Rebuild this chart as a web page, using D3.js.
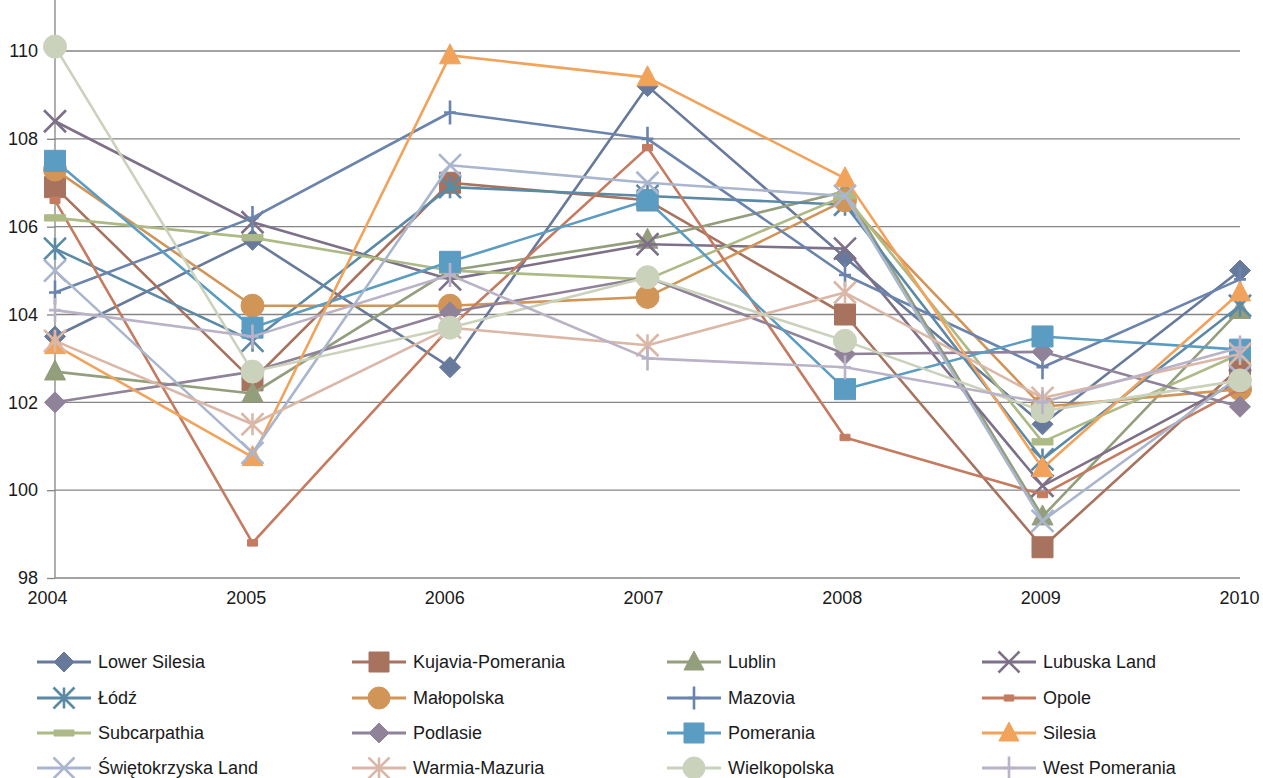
<!DOCTYPE html>
<html>
<head>
<meta charset="utf-8">
<script src="https://cdn.jsdelivr.net/npm/d3@7"></script>
<style>
  body { margin: 0; background: #fff; }
  svg { display: block; }
  text { font-family: "Liberation Sans", Arial, sans-serif; fill: #1a1a1a; }
</style>
</head>
<body>
<svg id="chart" width="1263" height="778"></svg>
<script>
const years = [2004, 2005, 2006, 2007, 2008, 2009, 2010];
const yTicks = [98, 100, 102, 104, 106, 108, 110];

const seriesNames = ["Lower Silesia", "Kujavia-Pomerania", "Lublin", "Lubuska Land",
  "Łódź", "Małopolska", "Mazovia", "Opole",
  "Subcarpathia", "Podlasie", "Pomerania", "Silesia",
  "Świętokrzyska Land", "Warmia-Mazuria", "Wielkopolska", "West Pomerania"];

const lowerSilesia   = [103.5, 105.7, 102.8, 109.2, 105.3, 101.5, 105.0];
const kujavia        = [106.9, 102.5, 107.0, 106.6, 104.0, 98.7, 102.8];
const lublin         = [102.7, 102.2, 105.0, 105.7, 106.8, 99.4, 104.1];
const lubuska        = [108.4, 106.1, 104.8, 105.6, 105.5, 100.1, 102.5];
const lodz           = [105.5, 103.4, 106.9, 106.7, 106.5, 100.7, 104.2];
const malopolska     = [107.3, 104.2, 104.2, 104.4, 106.6, 101.9, 102.3];
const mazovia        = [104.5, 106.2, 108.6, 108.0, 104.9, 102.8, 104.8];
const opole          = [106.6, 98.8, 103.7, 107.8, 101.2, 99.9, 102.3];
const subcarpathia   = [106.2, 105.75, 105.0, 104.8, 106.7, 101.1, 103.1];
const podlasie       = [102.0, 102.7, 104.05, 104.85, 103.1, 103.15, 101.9];
const pomerania      = [107.5, 103.7, 105.2, 106.6, 102.3, 103.5, 103.2];
const silesia        = [103.3, 100.75, 109.9, 109.4, 107.1, 100.5, 104.5];
const swietokrzyska  = [105.0, 100.85, 107.4, 107.0, 106.7, 99.3, 102.6];
const warmia         = [103.4, 101.5, 103.7, 103.3, 104.5, 102.1, 103.1];
const wielkopolska   = [110.1, 102.7, 103.7, 104.85, 103.4, 101.8, 102.5];
const westPomerania  = [104.1, 103.5, 104.9, 103.0, 102.8, 102.0, 103.25];

const seriesValues = [lowerSilesia, kujavia, lublin, lubuska, lodz, malopolska, mazovia, opole,
  subcarpathia, podlasie, pomerania, silesia, swietokrzyska, warmia, wielkopolska, westPomerania];

const colors = ["#677a9c", "#a7735f", "#939e7c", "#7e7088", "#5b89a6", "#d29558", "#6a84ad", "#c47b60",
  "#adba85", "#8f8299", "#5b9cc2", "#f1a35b", "#a9b6cd", "#dab7a6", "#cbd2bc", "#bab2c6"];
const markers = ["diamond", "square", "triangle", "x", "asterisk", "circle", "plus", "dash",
  "bar", "diamond", "square", "triangle", "x", "asterisk", "circle", "plus"];

const svg = d3.select("#chart");
const x = d3.scalePoint().domain(years).range([55, 1240]);
const xLabel = d3.scalePoint().domain(years).range([47, 1239]);
const y = d3.scaleLinear().domain([98, 110]).range([578, 51]);

// grid
svg.append("g").selectAll("line").data(yTicks).join("line")
  .attr("x1", 55).attr("x2", 1240)
  .attr("y1", d => y(d)).attr("y2", d => y(d))
  .attr("stroke", "#858585").attr("stroke-width", 1.3);

// y axis
const yAxis = d3.axisLeft(y).tickValues(yTicks).tickSize(8).tickPadding(9);
const gy = svg.append("g").attr("transform", "translate(55,0)").call(yAxis);
gy.select(".domain").remove();
gy.selectAll(".tick line").attr("stroke", "#858585").attr("stroke-width", 1.3);
gy.selectAll("text").attr("font-size", 18).style("fill", "#1a1a1a");
svg.append("line").attr("x1", 55).attr("x2", 55).attr("y1", 0).attr("y2", 578)
  .attr("stroke", "#858585").attr("stroke-width", 1.3);

// x axis labels
const xAxis = d3.axisBottom(xLabel).tickSize(0).tickPadding(13).tickFormat(d3.format("d"));
const gx = svg.append("g").attr("transform", "translate(0,578)").call(xAxis);
gx.select(".domain").remove();
gx.selectAll("text").attr("font-size", 18).style("fill", "#1a1a1a");

function markerPath(type, s) {
  const h = s / 2;
  switch (type) {
    case "diamond": return `M0,${-h}L${h},0L0,${h}L${-h},0Z`;
    case "square": return `M${-h},${-h}H${h}V${h}H${-h}Z`;
    case "triangle": return `M0,${-h * 1.1}L${h},${h * 0.8}L${-h},${h * 0.8}Z`;
    case "circle": return d3.symbol(d3.symbolCircle, Math.PI * h * h)();
    case "x": return `M${-h},${-h}L${h},${h}M${-h},${h}L${h},${-h}`;
    case "plus": return `M0,${-h}V${h}M${-h * 0.5},0H${h * 0.5}`;
    case "asterisk": return `M${-h},${-h}L${h},${h}M${-h},${h}L${h},${-h}M0,${-h}V${h}`;
    case "dash": return `M${-h * 0.5},${-h * 0.32}H${h * 0.5}V${h * 0.32}H${-h * 0.5}Z`;
    case "bar": return `M${-h},${-h * 0.3}H${h}V${h * 0.3}H${-h}Z`;
  }
}
const filled = t => ["diamond", "square", "triangle", "circle", "dash", "bar"].includes(t);
const markerSize = { diamond: 21, square: 21, triangle: 21, circle: 23, x: 22, plus: 24, asterisk: 22, dash: 20, bar: 21 };

const line = d3.line().x((d, i) => x(years[i])).y(d => y(d));

seriesValues.forEach((vals, si) => {
  const g = svg.append("g");
  g.append("path").datum(vals).attr("d", line)
    .attr("fill", "none").attr("stroke", colors[si]).attr("stroke-width", 2.6)
    .attr("stroke-linejoin", "round");
  const t = markers[si];
  g.selectAll("path.m").data(vals).join("path").attr("class", "m")
    .attr("transform", (d, i) => `translate(${x(years[i])},${y(d)})`)
    .attr("d", markerPath(t, markerSize[t]))
    .attr("fill", filled(t) ? colors[si] : "none")
    .attr("stroke", colors[si])
    .attr("stroke-width", filled(t) ? 1 : 2.6)
    .attr("stroke-linejoin", "round");
});

// legend
const colX = [37, 352, 667, 982];
const rowY = [662, 698, 733, 768];
seriesNames.forEach((name, si) => {
  const cx = colX[si % 4], cy = rowY[Math.floor(si / 4)];
  const g = svg.append("g").attr("transform", `translate(${cx},${cy})`);
  g.append("line").attr("x1", 0).attr("x2", 54).attr("y1", 0).attr("y2", 0)
    .attr("stroke", colors[si]).attr("stroke-width", 3);
  const t = markers[si];
  g.append("path").attr("transform", "translate(27,0)")
    .attr("d", markerPath(t, markerSize[t] - 1))
    .attr("fill", filled(t) ? colors[si] : "none")
    .attr("stroke", colors[si]).attr("stroke-width", filled(t) ? 1 : 2.6);
  g.append("text").attr("x", 61).attr("y", 0).attr("dy", "0.35em")
    .attr("font-size", 18).text(name);
});
</script>
</body>
</html>
